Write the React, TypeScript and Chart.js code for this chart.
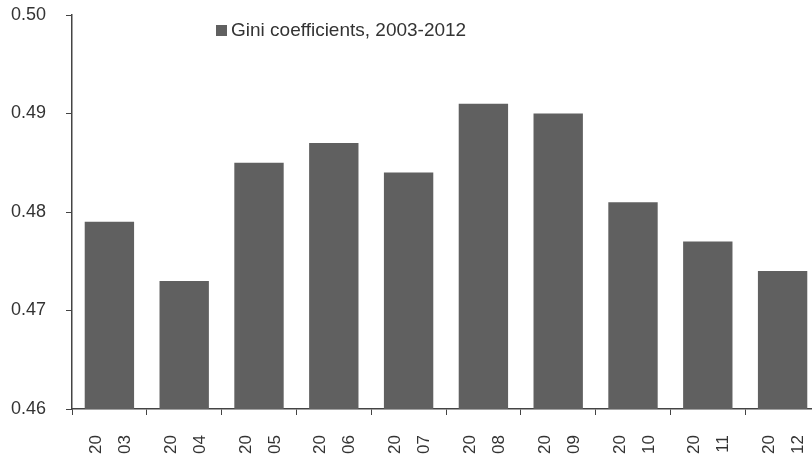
import React, { useEffect, useRef } from "react";
import { Chart, registerables } from "chart.js";

Chart.register(...registerables);

// Gini coefficients by year
const years = ["2003", "2004", "2005", "2006", "2007", "2008", "2009", "2010", "2011", "2012"];
const giniValues = [0.479, 0.473, 0.485, 0.487, 0.484, 0.491, 0.49, 0.481, 0.477, 0.474];
const seriesLabel = "Gini coefficients, 2003-2012";
const yTicks = [0.46, 0.47, 0.48, 0.49, 0.5];

const FONT = "'Liberation Sans', Arial, sans-serif";
const TEXT = "#333333";
const AXIS = "#444444";
const BAR = "#606060";

// Legend drawn inside the plot area, near the top
const insideLegend = {
  id: "insideLegend",
  afterDraw(chart: any) {
    const ds = chart.data.datasets[0];
    const ctx = chart.ctx;
    ctx.save();
    ctx.fillStyle = ds.backgroundColor;
    ctx.fillRect(216, 25, 11, 11);
    ctx.fillStyle = TEXT;
    ctx.font = `19px ${FONT}`;
    ctx.textBaseline = "middle";
    ctx.textAlign = "left";
    ctx.fillText(ds.label, 231, 31);
    ctx.restore();
  },
};

export default function App() {
  const canvasRef = useRef<HTMLCanvasElement | null>(null);

  useEffect(() => {
    if (!canvasRef.current) return;
    const chart = new Chart(canvasRef.current, {
      type: "bar",
      data: {
        labels: years.map((y) => [y.slice(0, 2), y.slice(2)]),
        datasets: [
          {
            label: seriesLabel,
            data: giniValues,
            backgroundColor: BAR,
            borderWidth: 0,
            categoryPercentage: 1,
            barPercentage: 0.66,
          },
        ],
      },
      options: {
        responsive: false,
        animation: false,
        devicePixelRatio: 1,
        layout: { padding: { top: 15, right: 10, left: 0, bottom: 0 } },
        plugins: {
          legend: { display: false },
          tooltip: { enabled: false },
        },
        scales: {
          x: {
            grid: { drawOnChartArea: false, tickLength: 6, color: AXIS, offset: true },
            border: { color: AXIS, width: 1.5 },
            ticks: {
              autoSkip: false,
              minRotation: 90,
              maxRotation: 90,
              padding: 20,
              labelOffset: -13,
              color: TEXT,
              font: { family: FONT, size: 17, lineHeight: 1.7 },
            },
            afterFit: (s: any) => {
              s.height = 50;
              s.paddingLeft = 0;
              s.paddingRight = 0;
            },
          },
          y: {
            min: yTicks[0],
            max: yTicks[yTicks.length - 1],
            afterBuildTicks: (s: any) => {
              s.ticks = yTicks.map((v) => ({ value: v }));
            },
            grid: { drawOnChartArea: false, tickLength: 6, color: AXIS },
            border: { color: AXIS, width: 1.5 },
            ticks: {
              padding: 20,
              color: TEXT,
              font: { family: FONT, size: 18 },
              callback: (v: any) => Number(v).toFixed(2),
            },
            afterFit: (s: any) => {
              s.width = 72;
              s.paddingTop = 0;
              s.paddingBottom = 0;
            },
          },
        },
      },
      plugins: [insideLegend],
    });
    return () => chart.destroy();
  }, []);

  return (
    <div
      style={{
        position: "fixed",
        left: 0,
        top: 0,
        width: 812,
        height: 459,
        overflow: "hidden",
        background: "#ffffff",
      }}
    >
      <canvas ref={canvasRef} width={830} height={459} style={{ display: "block" }} />
    </div>
  );
}
